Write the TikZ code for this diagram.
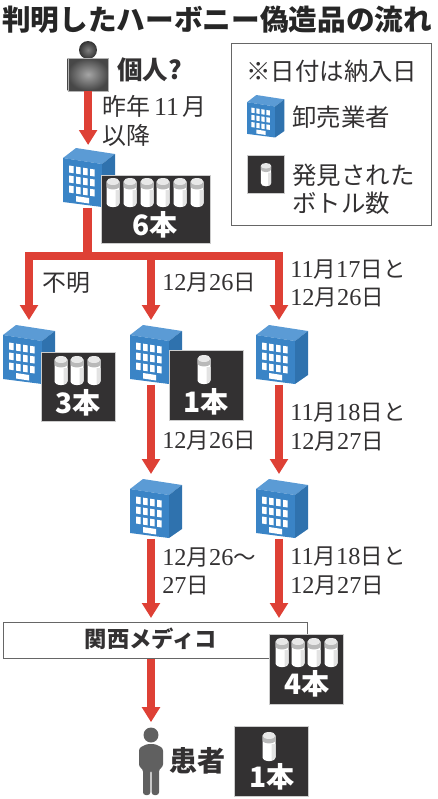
\documentclass[tikz,border=0pt]{standalone}
\usepackage{fontspec}
\setmainfont{Noto Sans CJK JP}
\newfontfamily\digitfont[Scale=1.08]{Liberation Serif}
\newcommand{\dg}[1]{{\digitfont #1}}
\usepackage{xcolor}
\usetikzlibrary{positioning, arrows.meta}
\definecolor{redline}{HTML}{DE4035}
\definecolor{inkgray}{HTML}{333132}
\definecolor{bluefront}{HTML}{3A84C6}
\definecolor{blueroof}{HTML}{5B9BD5}
\definecolor{blueside}{HTML}{2F72AE}

\begin{document}
\begin{tikzpicture}[
  x=0.02cm, y=-0.02cm,
  > = {Triangle[length=3mm, width=3.5mm]},
  bar/.style={draw=redline, line width=1.7mm},
  arr/.style={bar, ->, shorten >=1mm, color=redline},
  title/.style={font=\fontsize{16.3}{18}\selectfont\bfseries, text=black!85, inner sep=0pt},
  lab/.style={font=\fontsize{12.8}{16}\selectfont, text=inkgray, align=left, anchor=west, inner sep=0pt},
  widelab/.style={lab, font=\fontsize{13.6}{16.5}\selectfont},
  keytext/.style={font=\fontsize{13.9}{16}\selectfont, text=inkgray, align=left, anchor=west, inner sep=0pt},
  boldlab/.style={font=\fontsize{14.5}{17}\selectfont\bfseries, text=inkgray, inner sep=0pt},
  count/.style={font=\fontsize{16}{18}\selectfont\bfseries, text=white, inner sep=0pt},
  cntbox/.style={fill=inkgray, draw=gray!40, line width=0.1mm, anchor=north west, inner sep=0pt,
                 minimum width=14.8mm, minimum height=14mm},
  bldg/.style={anchor=north west, inner sep=0pt, minimum width=10.4mm, minimum height=11.8mm},
  keybox/.style={draw=gray!80!black, line width=0.2mm, anchor=north west, inner sep=0pt},
  building/.pic={
    \fill[blueroof] (0,10) -- (13,0) -- (52,6) -- (39,16) -- cycle;
    \fill[bluefront] (0,10) -- (39,16) -- (39,59) -- (0,54) -- cycle;
    \fill[blueside] (39,16) -- (52,6) -- (52,50) -- (39,59) -- cycle;
    \foreach \wx/\wd in {6/0, 13/1.1, 20/2.2, 27/3.3} {
      \foreach \wy in {17.5, 27.5, 37.5} {
        \fill[white] (\wx,\wy+\wd) -- ++(4.6,0.7) -- ++(0,7) -- ++(-4.6,-0.7) -- cycle;
      }
    }
    \fill[white] (13,48) -- (26,50) -- (26,55.5) -- (13,53.5) -- cycle;
  },
  bottle/.pic={
    \fill[white] (-6.5,4) -- (-6.5,25) .. controls (-6.5,30.5) and (6.5,30.5) .. (6.5,25) -- (6.5,4) -- cycle;
    \fill[gray!22] (2.5,12) -- (2.5,28.2) .. controls (5,27.8) and (6.5,27) .. (6.5,25) -- (6.5,12) -- cycle;
    \fill[gray!55] (-6.5,3.5) -- (-6.5,8) .. controls (-6.5,12.5) and (6.5,12.5) .. (6.5,8) -- (6.5,3.5) -- cycle;
    \fill[gray!18] (0,3.5) ellipse[x radius=6.5, y radius=3.5];
  },
]
  \useasboundingbox (0,0) rectangle (438,799);

  % --- Title ---
  \node[title, anchor=west] (ttl) at (2,20) {判明したハーボニー偽造品の流れ};

  % --- Key ---
  \node[keybox, minimum width=40.2mm, minimum height=36.4mm] (key) at (230.5,43) {};
  \node[keytext] (knote) at (246,71) {※日付は納入日};
  \node[bldg, minimum width=7.6mm, minimum height=8.4mm] (kbld) at (247,95) {};
  \pic[scale=0.72] at (kbld.north west) {building};
  \node[keytext] (kbtx) at (292,117) {卸売業者};
  \node[cntbox, minimum width=7.4mm, minimum height=7.6mm] (kcnt) at (247,155) {};
  \pic[scale=0.8] at (266,163) {bottle};
  \node[keytext] (kctx) at (292,189) {発見された\\ボトル数};

  % --- Individual ---
  \node[circle, shade, inner color=black!50, outer color=black!80, minimum size=3.6mm, inner sep=0pt] (khead) at (88,50) {};
  \node[rectangle, shade, inner color=black!35, outer color=black!72, draw=gray!60, line width=0.05mm,
        minimum width=8.2mm, minimum height=6.5mm, inner sep=0pt, anchor=north west] (kojin) at (67.5,58) {};
  \node[boldlab, anchor=west] (kjtx) at (117,70) {個人?};
  \node[widelab] (l1) at (102,120.5) {昨年\,\dg{11}\,月\\以降};

  % --- First wholesaler ---
  \node[bldg] (btop) at (63,148) {};
  \pic at (btop.north west) {building};
  \node[cntbox, minimum width=21.8mm, minimum height=13.8mm] (ctop) at (101,174.5) {};
  \foreach \bx in {113,130,147,163,180,197} { \pic at (\bx,178) {bottle}; }
  \node[count] (ntop) at (155,225) {6本};

  % --- Second row ---
  \node[bldg] (bleft) at (3,325) {};
  \pic at (bleft.north west) {building};
  \node[bldg] (bmid) at (130,325) {};
  \pic at (bmid.north west) {building};
  \node[bldg] (bright) at (256,325) {};
  \pic at (bright.north west) {building};

  \node[cntbox] (cleft) at (41,351.5) {};
  \foreach \bx in {61,77,94} { \pic at (\bx,356) {bottle}; }
  \node[count] (nleft) at (78,403) {3本};

  \node[cntbox] (cmid) at (169,350) {};
  \pic at (204,355) {bottle};
  \node[count] (nmid) at (206,402) {1本};

  % --- Third row ---
  \node[bldg] (bmid2) at (130,479) {};
  \pic at (bmid2.north west) {building};
  \node[bldg] (bright2) at (256,479) {};
  \pic at (bright2.north west) {building};

  % --- Kansai Medico ---
  \node[draw=gray!80!black, line width=0.2mm, fill=white, anchor=north west, inner sep=0pt,
        minimum width=60.8mm, minimum height=7.2mm] (medi) at (3.5,621.5) {};
  \node[boldlab, font=\fontsize{12.7}{15}\selectfont\bfseries] (mdtx) at (151,639) {関西メディコ};
  \node[cntbox] (cmed) at (269,634) {};
  \foreach \bx in {282,298,314,331} { \pic at (\bx,638) {bottle}; }
  \node[count] (nmed) at (307,684) {4本};

  % --- Patient ---
  \node[circle, fill=gray!75!black, minimum size=3mm, inner sep=0pt] (phead) at (151,735) {};
  \fill[gray!75!black, rounded corners=1.5pt] (147,744) -- (155,744) -- (163,748) -- (163,767) -- (159,769)
    -- (159,795) -- (151.7,795) -- (151.7,770) -- (150.3,770) -- (150.3,795) -- (143,795) -- (143,769) -- (139,767) -- (139,748) -- cycle;
  \node[boldlab, anchor=west, font=\fontsize{16}{18}\selectfont\bfseries] (pttx) at (169,761) {患者};
  \node[cntbox] (cpat) at (234,726) {};
  \pic at (269,732) {bottle};
  \node[count] (npat) at (272,777) {1本};

  % --- Bus and columns ---
  \coordinate (bus0) at (87.5,256);
  \coordinate (bus1) at (29,256);
  \coordinate (bus2) at (151,256);
  \coordinate (bus3) at (279,256);

  % --- Connectors ---
  \draw[arr, shorten >=0.6mm] (kojin.south) -- (btop.north -| kojin.south);
  \draw[bar] (btop.south -| bus0) -- (bus0);
  \draw[arr] (bus0) -- (bus1) -- (bleft.north -| bus1);
  \draw[arr] (bus2) -- (bmid.north -| bus2);
  \draw[arr] (bus0) -- (bus3) -- (bright.north -| bus3);
  \draw[arr] (bmid.south -| bus2) -- (bmid2.north -| bus2);
  \draw[arr] (bright.south -| bus3) -- (bright2.north -| bus3);
  \draw[arr, shorten >=0.7mm] (bmid2.south -| bus2) -- (medi.north -| bus2);
  \draw[arr, shorten >=0.7mm] (bright2.south -| bus3) -- (medi.north -| bus3);
  \draw[arr] (medi.south -| bus2) -- (phead.north -| bus2);

  % --- Date labels ---
  \node[widelab] (l2) at (42,283) {不明};
  \node[lab] (l3) at (162,283) {\dg{12}月\dg{26}日};
  \node[lab] (l4) at (290,283.5) {\dg{11}月\dg{17}日と\\\dg{12}月\dg{26}日};
  \node[lab] (l5) at (290,427) {\dg{11}月\dg{18}日と\\\dg{12}月\dg{27}日};
  \node[lab] (l6) at (162,441) {\dg{12}月\dg{26}日};
  \node[lab] (l7) at (162,571) {\dg{12}月\dg{26}〜\\\dg{27}日};
  \node[lab] (l8) at (290,571) {\dg{11}月\dg{18}日と\\\dg{12}月\dg{27}日};
\end{tikzpicture}
\end{document}
